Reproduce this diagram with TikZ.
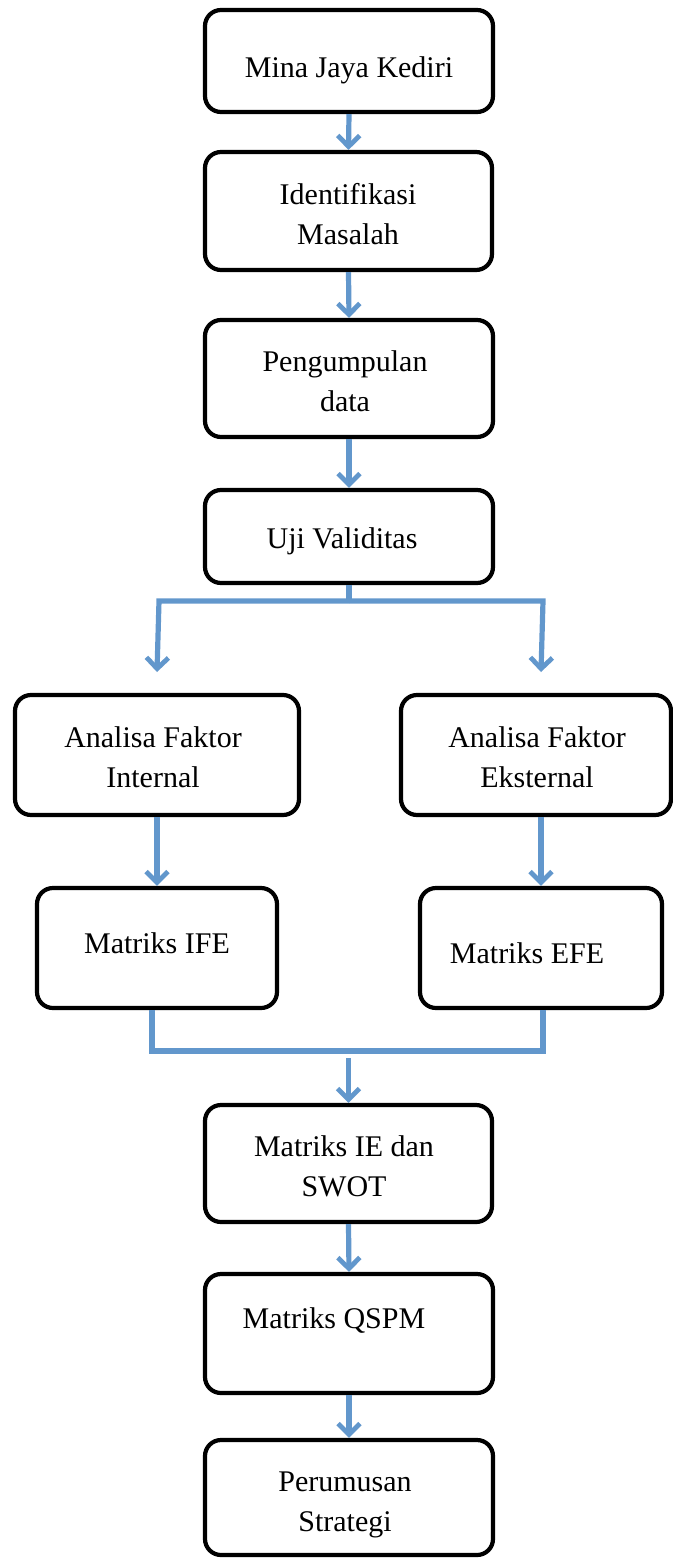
\documentclass[tikz,border=0pt]{standalone}
\usepackage{fontspec}
\setmainfont{Liberation Serif}
\usepackage{tikz}
\usetikzlibrary{arrows.meta, calc}

\definecolor{flowblue}{RGB}{98,151,204}

\begin{document}
\begin{tikzpicture}[
        x=0.5pt, y=-0.5pt,
        box/.style={draw=black, line width=2.1pt, rounded corners=8pt, fill=white},
        txt/.style={align=center, font=\fontsize{15}{20}\selectfont},
        ar/.style={draw=flowblue, line width=2.6pt,
          -{Straight Barb[length=5.5pt, width=11pt, line width=2.4pt]}},
        ln/.style={draw=flowblue, line width=2.6pt}
      ]
      \useasboundingbox (0,0) rectangle (673,1558);
      % boxes
      \node[box, minimum width=144pt, minimum height=51pt] (mina) at (349,61) {};
      \node[box, minimum width=143.5pt, minimum height=59pt] (ident) at (348.5,211) {};
      \node[box, minimum width=144pt, minimum height=58.5pt] (kumpul) at (349,378.5) {};
      \node[box, minimum width=144pt, minimum height=46.5pt] (uji) at (349,536.5) {};
      \node[box, minimum width=142pt, minimum height=60pt] (internal) at (157,755) {};
      \node[box, minimum width=135pt, minimum height=60pt] (eksternal) at (536,755) {};
      \node[box, minimum width=120pt, minimum height=60pt] (ife) at (157,948) {};
      \node[box, minimum width=121pt, minimum height=60pt] (efe) at (541,948) {};
      \node[box, minimum width=143.5pt, minimum height=58.5pt] (ieswot) at (348.5,1163.5) {};
      \node[box, minimum width=144pt, minimum height=59.5pt] (qspm) at (349,1333.5) {};
      \node[box, minimum width=144pt, minimum height=57.5pt] (strategi) at (349,1497.5) {};
      % texts
      \node[txt] (tmina) at (349,70) {Mina Jaya Kediri};
      \node[txt] (tident) at (348,214) {Identifikasi\\Masalah};
      \node[txt] (tkumpul) at (345,381) {Pengumpulan\\data};
      \node[txt] (tuji) at (342,541) {Uji Validitas};
      \node[txt] (tinternal) at (153,757) {Analisa Faktor\\Internal};
      \node[txt] (teksternal) at (537,757) {Analisa Faktor\\Eksternal};
      \node[txt] (tife) at (157,943) {Matriks IFE};
      \node[txt] (tefe) at (527,953) {Matriks EFE};
      \node[txt] (tieswot) at (344,1166) {Matriks IE dan\\SWOT};
      \node[txt] (tqspm) at (334,1321) {Matriks QSPM};
      \node[txt] (tstrategi) at (345,1505) {Perumusan\\Strategi};
      % helper points
      \coordinate (split) at (349,601);
      \coordinate (splitL) at (159,601);
      \coordinate (splitR) at (543,601);
      \coordinate (endL) at (157,672);
      \coordinate (endR) at (541,672);
      \coordinate (joinL) at (152,1051);
      \coordinate (joinR) at (543,1051);
      \coordinate (join) at (348.5,1058);
      % arrows
      \draw[ar] (mina.south) -- (ident.north);
      \draw[ar] (ident.south) -- (kumpul.north);
      \draw[ar] (kumpul.south) -- (uji.north);
      \draw[ln] (uji.south) -- (split);
      \draw[ar] (split) -- (splitL) -- (endL);
      \draw[ar] (split) -- (splitR) -- (endR);
      \draw[ar] (internal.south) -- (ife.north);
      \draw[ar] (efe.north |- eksternal.south) -- (efe.north);
      \draw[ln] (joinL |- ife.south) -- (joinL) -- (joinR) -- (joinR |- efe.south);
      \draw[ar] (join) -- (ieswot.north);
      \draw[ar] (ieswot.south) -- (qspm.north);
      \draw[ar] (qspm.south) -- (strategi.north);
    \end{tikzpicture}
\end{document}
